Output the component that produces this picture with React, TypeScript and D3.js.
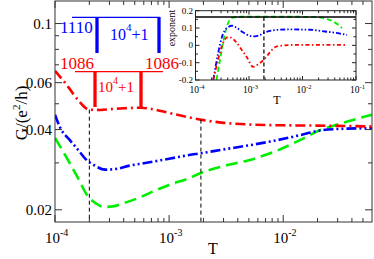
import React from "react";
import * as d3 from "d3";

// ---------- main panel data (T, G in e^2/h) ----------
const redT = [1e-4, 1.3e-4, 1.6e-4, 2e-4, 2.5e-4, 3.2e-4, 4e-4, 5.6e-4, 7e-4, 1e-3, 1.4e-3, 2e-3, 3e-3, 5e-3, 1e-2, 2e-2, 3e-2, 6e-2];
const redG = [0.0665, 0.058, 0.0515, 0.0475, 0.0474, 0.0478, 0.0481, 0.0483, 0.0478, 0.0462, 0.0447, 0.0434, 0.0424, 0.0418, 0.0415, 0.0414, 0.0413, 0.0411];

const blueT = [1e-4, 1.1e-4, 1.35e-4, 1.6e-4, 1.9e-4, 2.2e-4, 2.75e-4, 3.5e-4, 4.5e-4, 6e-4, 1e-3, 1.5e-3, 1.9e-3, 3e-3, 5e-3, 8e-3, 1.4e-2, 2.1e-2, 3e-2, 6e-2];
const blueG = [0.0455, 0.041, 0.0365, 0.0335, 0.0307, 0.0294, 0.0283, 0.0285, 0.0293, 0.0299, 0.0311, 0.0321, 0.0326, 0.0337, 0.0349, 0.0362, 0.0381, 0.0397, 0.0402, 0.0405];

const greenT = [1e-4, 1.35e-4, 1.6e-4, 1.9e-4, 2.3e-4, 2.65e-4, 3.2e-4, 4e-4, 5.6e-4, 7e-4, 1e-3, 1.5e-3, 1.9e-3, 3e-3, 5e-3, 8e-3, 1.4e-2, 2.1e-2, 3e-2, 4.6e-2, 6e-2];
const greenG = [0.0372, 0.0299, 0.0262, 0.0228, 0.0211, 0.0205, 0.0206, 0.0212, 0.0223, 0.0233, 0.0248, 0.0263, 0.0275, 0.0292, 0.0307, 0.0328, 0.0365, 0.0398, 0.0418, 0.0441, 0.0455];

const markT = [2e-4, 1.9e-3];
const markTop = [0.0475, 0.0436];

// ---------- inset data (T, exponent) ----------
const iRedT = [2.15e-4, 2.63e-4, 3.27e-4, 4.05e-4, 4.61e-4, 5.71e-4, 7.08e-4, 9.18e-4, 1.19e-3, 1.47e-3, 2e-3, 2.47e-3, 3.06e-3, 4.7e-3, 9e-3, 2.1e-2, 6.8e-2];
const iRedV = [-0.2, -0.085, 0.013, 0.048, 0.045, 0.02, -0.02, -0.07, -0.124, -0.11, -0.075, -0.04, -0.01, 0.0, 0.003, 0.003, 0.002];

const iBlueT = [2.15e-4, 2.63e-4, 3.13e-4, 3.88e-4, 4.81e-4, 5.97e-4, 7.73e-4, 1.04e-3, 1.29e-3, 1.61e-3, 2e-3, 3.06e-3, 5.83e-3, 1.38e-2, 2.63e-2, 5e-2, 6.8e-2];
const iBlueV = [-0.2, -0.05, 0.05, 0.1, 0.113, 0.1, 0.075, 0.055, 0.052, 0.06, 0.075, 0.088, 0.092, 0.09, 0.08, 0.068, 0.06];

const iGreenT = [2.47e-4, 3e-4, 3.56e-4, 4.23e-4, 5.01e-4, 6.79e-4, 8.98e-3, 1.71e-2, 2.63e-2, 3.72e-2, 4.61e-2, 5.47e-2];
const iGreenV = [-0.2, -0.05, 0.07, 0.14, 0.16, 0.165, 0.165, 0.163, 0.155, 0.138, 0.12, 0.1];

const insetLevel = 0.163;
const insetMarkT = 1.9e-3;

// ---------- ticks ----------
const xMajor = [1e-4, 1e-3, 1e-2];
const xMajorExp = ["-4", "-3", "-2"];
const yMajor = [0.02, 0.04, 0.06, 0.1];
const yMajorLabels = ["0.02", "0.04", "0.06", "0.1"];
const yMinor = [0.03, 0.05, 0.07, 0.08, 0.09];
const iXMajor = [1e-4, 1e-3, 1e-2, 1e-1];
const iXMajorExp = ["-4", "-3", "-2", "-1"];
const iYMajor = [-0.2, -0.1, 0, 0.1, 0.2];
const iYMajorLabels = ["-0.2", "-0.1", "0", "0.1", "0.2"];
const iYMinor = [-0.15, -0.05, 0.05, 0.15];

const RED = "#ff0000";
const BLUE = "#0000ff";
const GREEN = "#00ee00";
const FONT = "'Liberation Serif', 'Times New Roman', serif";

function minorDecades(lo: number, hi: number) {
  const out: number[] = [];
  for (let e = -5; e <= 0; e++) {
    for (let k = 2; k <= 9; k++) {
      const v = k * Math.pow(10, e);
      if (v > lo * 1.0001 && v < hi * 0.9999) out.push(v);
    }
  }
  return out;
}

export default function App() {
  const W = 374, H = 259;
  const L = 55, R = 372, T = 1, B = 222;
  const x = d3.scaleLog().domain([1e-4, 0.06]).range([L, R]);
  const y = d3.scaleLog().domain([0.018, 0.1215]).range([B, T]);

  const iL = 195.5, iR = 356, iT = 10.7, iB = 80;
  const xi = d3.scaleLog().domain([1e-4, 1e-1]).range([iL, iR]);
  const yi = d3.scaleLinear().domain([-0.2, 0.2]).range([iB, iT]);

  const mainLine = (ts: number[], vs: number[]) =>
    d3.line<number>().x((_, i) => x(ts[i])).y((d) => y(d)).curve(d3.curveMonotoneX)(vs) || "";
  const insetLine = (ts: number[], vs: number[]) =>
    d3.line<number>().x((_, i) => xi(ts[i])).y((d) => yi(d)).curve(d3.curveMonotoneX)(vs) || "";

  const xMinor = minorDecades(1e-4, 0.06);
  const iXMinor = minorDecades(1e-4, 1e-1);

  return (
    <svg width={W} height={H} style={{ position: "absolute", left: 0, top: 0, background: "#fff" }} fontFamily={FONT}>
      <defs>
        <clipPath id="mainClip"><rect x={L} y={T} width={R - L} height={B - T} /></clipPath>
        <clipPath id="insetClip"><rect x={iL} y={iT} width={iR - iL} height={iB - iT} /></clipPath>
      </defs>

      {/* main curves */}
      <g clipPath="url(#mainClip)" fill="none" strokeWidth={2.6}>
        <path d={mainLine(greenT, greenG)} stroke={GREEN} strokeDasharray="12,6" />
        <path d={mainLine(blueT, blueG)} stroke={BLUE} strokeDasharray="10,3,2,3,2,3" />
        <path d={mainLine(redT, redG)} stroke={RED} strokeDasharray="10,4,2,4" />
      </g>

      {/* vertical markers */}
      {markT.map((t, i) => (
        <line key={"m" + i} x1={x(t)} x2={x(t)} y1={y(markTop[i])} y2={B} stroke="#000" strokeWidth={1} strokeDasharray="4,3" />
      ))}

      {/* main frame */}
      <rect x={L} y={T} width={R - L} height={B - T} fill="none" stroke="#333" strokeWidth={1} />

      {/* x ticks */}
      {xMajor.map((v, i) => (
        <g key={"xM" + i}>
          <line x1={x(v)} x2={x(v)} y1={B} y2={B - 7} stroke="#333" />
          <line x1={x(v)} x2={x(v)} y1={T} y2={T + 7} stroke="#333" />
          <text x={x(v) - 10} y={243} fontSize={15}>
            10<tspan fontSize={10} dy={-7}>{xMajorExp[i]}</tspan>
          </text>
        </g>
      ))}
      {xMinor.map((v, i) => (
        <g key={"xm" + i}>
          <line x1={x(v)} x2={x(v)} y1={B} y2={B - 4} stroke="#333" />
          <line x1={x(v)} x2={x(v)} y1={T} y2={T + 4} stroke="#333" />
        </g>
      ))}
      {/* y ticks */}
      {yMajor.map((v, i) => (
        <g key={"yM" + i}>
          <line x1={L} x2={L + 7} y1={y(v)} y2={y(v)} stroke="#333" />
          <line x1={R} x2={R - 7} y1={y(v)} y2={y(v)} stroke="#333" />
          <text x={52} y={y(v) + 5} fontSize={15} textAnchor="end">{yMajorLabels[i]}</text>
        </g>
      ))}
      {yMinor.map((v, i) => (
        <g key={"ym" + i}>
          <line x1={L} x2={L + 4} y1={y(v)} y2={y(v)} stroke="#333" />
          <line x1={R} x2={R - 4} y1={y(v)} y2={y(v)} stroke="#333" />
        </g>
      ))}

      {/* axis titles */}
      <text x={213} y={254} fontSize={16} textAnchor="middle">T</text>
      <text transform="translate(27,113) rotate(-90)" fontSize={17} textAnchor="middle">
        G/(e<tspan fontSize={11} dy={-7}>2</tspan><tspan dy={7}>/h)</tspan>
      </text>

      {/* blue annotation */}
      <g fill={BLUE} stroke={BLUE}>
        <text x={60} y={33} fontSize={17} stroke="none">1110</text>
        <line x1={72} x2={160} y1={17.3} y2={17.3} strokeWidth={1.3} />
        <line x1={97} x2={97} y1={17} y2={53} strokeWidth={3.3} />
        <line x1={159} x2={159} y1={17} y2={53} strokeWidth={3.3} />
        <text x={110} y={40} fontSize={16} stroke="none">
          10<tspan fontSize={11} dy={-9}>4</tspan><tspan dy={9}>+1</tspan>
        </text>
      </g>

      {/* red annotation */}
      <g fill={RED} stroke={RED}>
        <text x={60} y={69} fontSize={17} stroke="none">1086</text>
        <text x={145} y={69} fontSize={17} stroke="none">1086</text>
        <line x1={75} x2={163} y1={71.7} y2={71.7} strokeWidth={1.3} />
        <line x1={95} x2={95} y1={72} y2={107} strokeWidth={3.3} />
        <line x1={141} x2={141} y1={72} y2={107} strokeWidth={3.3} />
        <text x={98} y={92} fontSize={15} stroke="none">
          10<tspan fontSize={10} dy={-8}>4</tspan><tspan dy={8}>+1</tspan>
        </text>
      </g>

      {/* inset */}
      <rect x={iL} y={iT} width={iR - iL} height={iB - iT} fill="#fff" stroke="none" />
      <g clipPath="url(#insetClip)" fill="none" strokeWidth={1.8}>
        <path d={insetLine(iGreenT, iGreenV)} stroke={GREEN} strokeDasharray="5,3" />
        <path d={insetLine(iBlueT, iBlueV)} stroke={BLUE} strokeDasharray="5,2,1.5,2,1.5,2" />
        <path d={insetLine(iRedT, iRedV)} stroke={RED} strokeDasharray="4,2.5,1.5,2.5" />
      </g>
      <line x1={iL} x2={iR} y1={yi(insetLevel)} y2={yi(insetLevel)} stroke="#000" strokeWidth={1.5} />
      <line x1={xi(insetMarkT)} x2={xi(insetMarkT)} y1={yi(insetLevel)} y2={iB} stroke="#000" strokeWidth={1.2} strokeDasharray="4,2.5" />
      <rect x={iL} y={iT} width={iR - iL} height={iB - iT} fill="none" stroke="#222" strokeWidth={1} />
      {iXMajor.map((v, i) => (
        <g key={"ixM" + i}>
          <line x1={xi(v)} x2={xi(v)} y1={iB} y2={iB - 4} stroke="#222" />
          <line x1={xi(v)} x2={xi(v)} y1={iT} y2={iT + 4} stroke="#222" />
          <text x={xi(v) - 6} y={93} fontSize={9.5}>
            10<tspan fontSize={6.5} dy={-4}>{iXMajorExp[i]}</tspan>
          </text>
        </g>
      ))}
      {iXMinor.map((v, i) => (
        <g key={"ixm" + i}>
          <line x1={xi(v)} x2={xi(v)} y1={iB} y2={iB - 2.5} stroke="#222" />
          <line x1={xi(v)} x2={xi(v)} y1={iT} y2={iT + 2.5} stroke="#222" />
        </g>
      ))}
      {iYMajor.map((v, i) => (
        <g key={"iyM" + i}>
          <line x1={iL} x2={iL + 4} y1={yi(v)} y2={yi(v)} stroke="#222" />
          <line x1={iR} x2={iR - 4} y1={yi(v)} y2={yi(v)} stroke="#222" />
          <text x={193} y={yi(v) + 3} fontSize={9} textAnchor="end">{iYMajorLabels[i]}</text>
        </g>
      ))}
      {iYMinor.map((v, i) => (
        <g key={"iym" + i}>
          <line x1={iL} x2={iL + 2.5} y1={yi(v)} y2={yi(v)} stroke="#222" />
          <line x1={iR} x2={iR - 2.5} y1={yi(v)} y2={yi(v)} stroke="#222" />
        </g>
      ))}
      <text x={277} y={104} fontSize={12} textAnchor="middle">T</text>
      <text transform="translate(175,28) rotate(-90)" fontSize={10} textAnchor="middle">exponent</text>
    </svg>
  );
}
